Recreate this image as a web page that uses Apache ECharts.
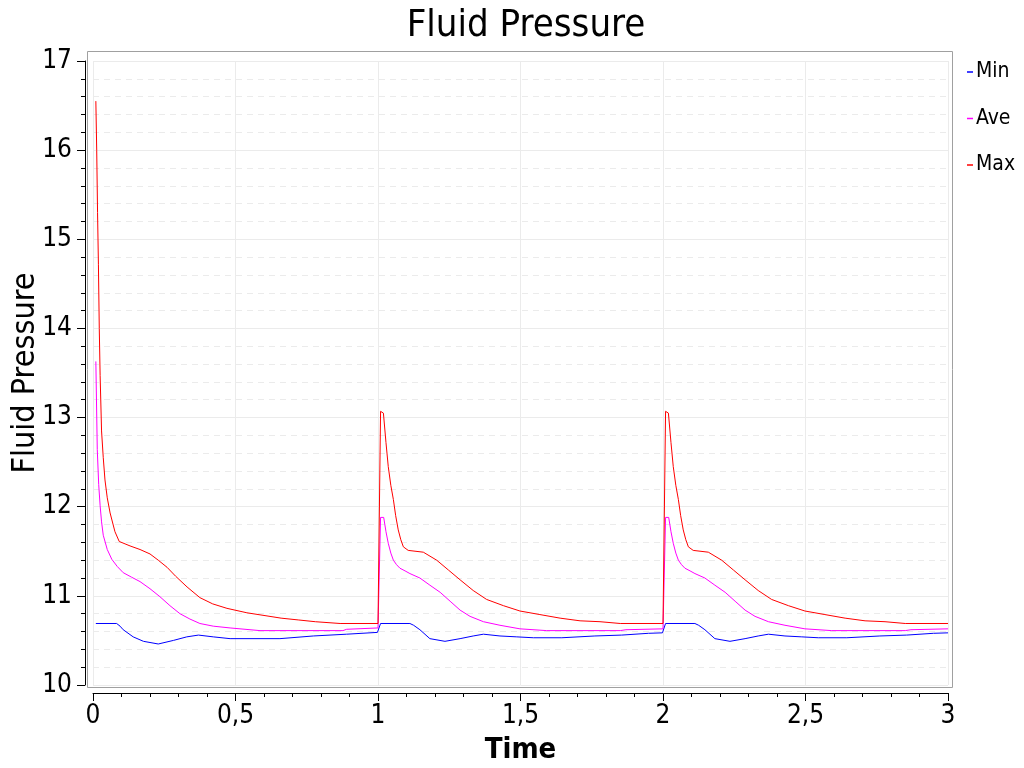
<!DOCTYPE html>
<html>
<head>
<meta charset="utf-8">
<script src="https://cdn.jsdelivr.net/npm/echarts@6/dist/echarts.min.js"></script>
<style>
html,body{margin:0;padding:0;background:#fff;}
#c{width:1024px;height:768px;}
</style>
</head>
<body>
<div id="c"></div>
<script>
const FONT = "'DejaVu Sans Condensed', 'DejaVu Sans', sans-serif";

const seriesNames = ['Min', 'Ave', 'Max'];
const seriesColors = ['#0000ff', '#ff00ff', '#ff0000'];

const maxTime = [
  0.01, 0.013, 0.016, 0.019, 0.022, 0.025, 0.03, 0.036, 0.042, 0.05, 0.06, 0.077, 0.092, 0.13, 0.165, 0.2, 0.229, 0.26, 0.29, 0.33, 0.375, 0.42, 0.47, 0.54, 0.6, 0.66, 0.72, 0.78, 0.867, 1.0,
  1.009, 1.019, 1.028, 1.036, 1.045, 1.054, 1.062, 1.071, 1.08, 1.089, 1.106, 1.159, 1.206, 1.247, 1.288, 1.334, 1.381, 1.44, 1.498, 1.568, 1.639, 1.709, 1.779, 1.85, 2.0,
  2.009, 2.019, 2.028, 2.036, 2.045, 2.054, 2.062, 2.071, 2.08, 2.089, 2.106, 2.159, 2.206, 2.247, 2.288, 2.334, 2.381, 2.44, 2.498, 2.568, 2.639, 2.709, 2.779, 2.85, 3.0
];
const maxValues = [
  16.55, 16.0, 15.3, 14.72, 14.0, 13.47, 12.85, 12.55, 12.30, 12.10, 11.93, 11.72, 11.61, 11.56, 11.52, 11.47, 11.40, 11.32, 11.22, 11.10, 10.98, 10.91, 10.86, 10.81, 10.78, 10.75, 10.73, 10.71, 10.69, 10.69,
  13.07, 13.05, 12.72, 12.45, 12.24, 12.08, 11.90, 11.74, 11.63, 11.55, 11.51, 11.49, 11.40, 11.29, 11.18, 11.06, 10.96, 10.89, 10.83, 10.79, 10.75, 10.72, 10.71, 10.69, 10.69,
  13.07, 13.05, 12.72, 12.45, 12.24, 12.08, 11.90, 11.74, 11.63, 11.55, 11.51, 11.49, 11.40, 11.29, 11.18, 11.06, 10.96, 10.89, 10.83, 10.79, 10.75, 10.72, 10.71, 10.69, 10.69
];

const aveTime = [
  0.01, 0.015, 0.02, 0.025, 0.03, 0.036, 0.05, 0.066, 0.085, 0.106, 0.135, 0.165, 0.2, 0.235, 0.27, 0.305, 0.34, 0.375, 0.422, 0.481, 0.586, 0.877, 0.89, 1.0,
  1.009, 1.02, 1.028, 1.036, 1.045, 1.054, 1.065, 1.077, 1.095, 1.112, 1.147, 1.182, 1.218, 1.253, 1.288, 1.323, 1.37, 1.428, 1.498, 1.592, 1.85, 1.87, 2.0,
  2.009, 2.02, 2.028, 2.036, 2.045, 2.054, 2.065, 2.077, 2.095, 2.112, 2.147, 2.182, 2.218, 2.253, 2.288, 2.323, 2.37, 2.428, 2.498, 2.592, 2.85, 2.87, 3.0
];
const aveValues = [
  13.63, 12.64, 12.25, 12.01, 11.83, 11.68, 11.52, 11.41, 11.33, 11.26, 11.21, 11.16, 11.08, 10.99, 10.89, 10.80, 10.74, 10.69, 10.66, 10.64, 10.61, 10.61, 10.625, 10.64,
  11.88, 11.88, 11.72, 11.59, 11.48, 11.40, 11.35, 11.31, 11.28, 11.25, 11.20, 11.12, 11.04, 10.94, 10.84, 10.77, 10.71, 10.67, 10.63, 10.61, 10.61, 10.62, 10.63,
  11.88, 11.88, 11.72, 11.59, 11.48, 11.40, 11.35, 11.31, 11.28, 11.25, 11.20, 11.12, 11.04, 10.94, 10.84, 10.77, 10.71, 10.67, 10.63, 10.61, 10.61, 10.62, 10.63
];

const minTime = [
  0.01, 0.083, 0.095, 0.106, 0.141, 0.177, 0.229, 0.282, 0.329, 0.37, 0.422, 0.481, 0.656, 0.773, 0.89, 0.998,
  1.009, 1.112, 1.125, 1.147, 1.182, 1.235, 1.288, 1.334, 1.37, 1.428, 1.487, 1.545, 1.645, 1.761, 1.855, 1.949, 1.998,
  2.009, 2.112, 2.125, 2.147, 2.182, 2.235, 2.288, 2.334, 2.37, 2.428, 2.487, 2.545, 2.645, 2.761, 2.855, 2.949, 3.0
];
const minValues = [
  10.69, 10.69, 10.66, 10.62, 10.54, 10.49, 10.46, 10.50, 10.54, 10.56, 10.54, 10.52, 10.52, 10.55, 10.57, 10.59,
  10.69, 10.69, 10.67, 10.62, 10.52, 10.49, 10.52, 10.55, 10.57, 10.55, 10.54, 10.53, 10.53, 10.55, 10.56, 10.58, 10.585,
  10.69, 10.69, 10.67, 10.62, 10.52, 10.49, 10.52, 10.55, 10.57, 10.55, 10.54, 10.53, 10.53, 10.55, 10.56, 10.58, 10.585
];

const xTicks = [0, 0.5, 1, 1.5, 2, 2.5, 3];
const yTicks = [10, 11, 12, 13, 14, 15, 16, 17];

function pairs(t, v) { return t.map((x, i) => [x, v[i]]); }
const seriesData = [pairs(minTime, minValues), pairs(aveTime, aveValues), pairs(maxTime, maxValues)];

const chart = echarts.init(document.getElementById('c'), null, {renderer: 'canvas'});

chart.setOption({
  animation: false,
  backgroundColor: '#ffffff',
  textStyle: {fontFamily: FONT},
  title: {
    text: 'Fluid Pressure',
    left: 521, top: 2, textAlign: 'center',
    textStyle: {fontFamily: FONT, fontSize: 38, fontWeight: 'normal', color: '#000'}
  },
  legend: {
    orient: 'vertical', left: 962, top: 56,
    data: seriesNames,
    icon: 'rect',
    itemWidth: 6, itemHeight: 1.5, itemGap: 24.5,
    textStyle: {fontFamily: FONT, fontSize: 21, color: '#000', lineHeight: 22, padding: [0, 0, 0, -2]}
  },
  grid: {left: 93, right: 76, top: 61, bottom: 83, outerBoundsMode: 'none', containLabel: false},
  graphic: [{
    type: 'rect', silent: true, z: 0,
    shape: {x: 87.5, y: 51.5, width: 865, height: 636},
    style: {fill: 'none', stroke: '#a0a0a0', lineWidth: 1}
  }],
  xAxis: {
    type: 'value', min: xTicks[0], max: xTicks[xTicks.length - 1], interval: 0.5,
    offset: 8,
    name: 'Time', nameLocation: 'middle', nameGap: 43, nameMoveOverlap: false,
    nameTextStyle: {fontFamily: FONT, fontSize: 29, fontWeight: 'bold', color: '#000'},
    axisLine: {show: true, onZero: false, lineStyle: {color: '#000', width: 1}},
    axisTick: {show: true, length: 8, lineStyle: {color: '#000'}},
    minorTick: {show: true, splitNumber: 5, length: 4, lineStyle: {color: '#000'}},
    axisLabel: {fontFamily: FONT, fontSize: 26, color: '#000', margin: 10,
      formatter: v => String(v).replace('.', ',')},
    splitLine: {show: true, lineStyle: {color: '#ebebeb', width: 1}},
    minorSplitLine: {show: false}
  },
  yAxis: {
    type: 'value', min: yTicks[0], max: yTicks[yTicks.length - 1], interval: 1,
    offset: 8,
    name: 'Fluid Pressure', nameLocation: 'middle', nameGap: 43, nameMoveOverlap: false,
    nameTextStyle: {fontFamily: FONT, fontSize: 32, color: '#000'},
    axisLine: {show: true, onZero: false, lineStyle: {color: '#000', width: 1}},
    axisTick: {show: true, length: 8, lineStyle: {color: '#000'}},
    minorTick: {show: true, splitNumber: 5, length: 4, lineStyle: {color: '#000'}},
    axisLabel: {fontFamily: FONT, fontSize: 26, color: '#000', margin: 13},
    splitLine: {show: true, lineStyle: {color: '#ebebeb', width: 1}},
    minorSplitLine: {show: true, lineStyle: {color: '#ebebeb', width: 1, type: [6, 5]}}
  },
  series: seriesNames.map((n, i) => ({
    name: n, type: 'line', data: seriesData[i],
    showSymbol: false, symbol: 'none',
    lineStyle: {color: seriesColors[i], width: 1},
    itemStyle: {color: seriesColors[i]},
    z: 3 + i
  }))
});
</script>
</body>
</html>
